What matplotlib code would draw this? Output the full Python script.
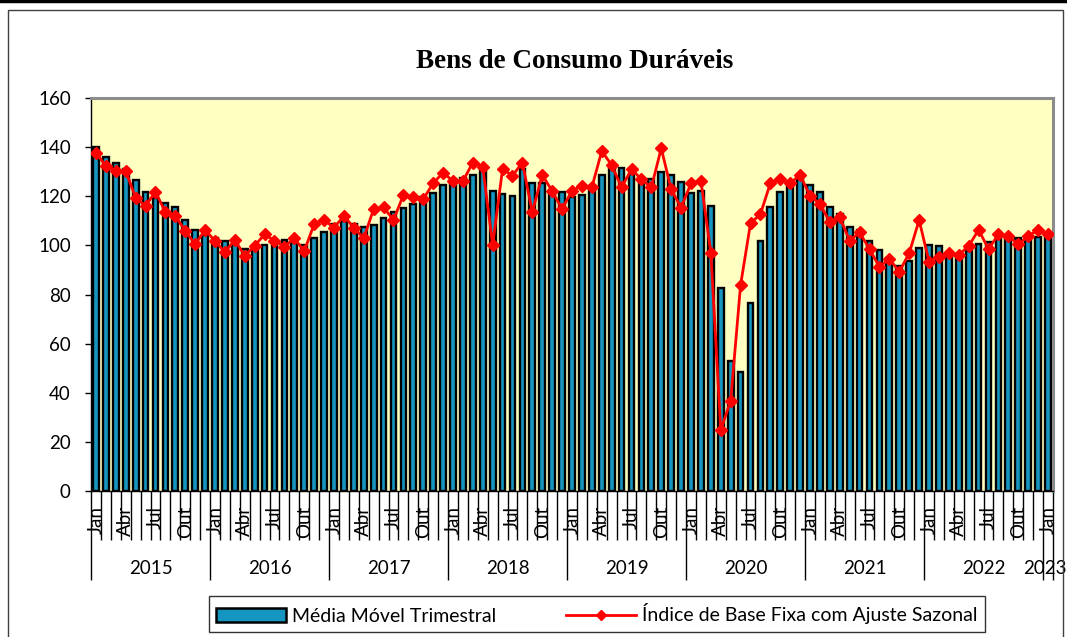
import numpy as np
import matplotlib
matplotlib.use("Agg")
from matplotlib import pyplot as plt
from matplotlib.patches import Rectangle
from matplotlib.lines import Line2D
from matplotlib.patches import Patch
import matplotlib.transforms as mtransforms

plt.rcParams['font.family'] = ['Lato', 'DejaVu Sans']

# monthly data, Jan 2015 .. Jan 2023
years = ["2015", "2016", "2017", "2018", "2019", "2020", "2021", "2022", "2023"]
month_labels = ["Jan", "", "", "Abr", "", "", "Jul", "", "", "Out", "", ""]

indice = [
    137.7, 132.3, 130.3, 130.3, 119.4, 116.0, 121.9, 113.5, 112.0, 106.0, 100.4, 106.3,
    101.9, 97.2, 102.2, 95.8, 99.8, 104.5, 101.9, 99.5, 102.9, 97.7, 108.6, 110.3,
    107.2, 112.0, 107.2, 102.9, 114.8, 115.5, 110.3, 120.5, 119.6, 118.8, 125.3, 129.6,
    126.2, 126.2, 133.7, 132.0, 100.2, 131.1, 128.4, 133.7, 113.5, 128.7, 122.1, 114.8,
    122.3, 124.3, 123.6, 138.4, 132.7, 123.6, 131.0, 126.9, 123.6, 139.5, 122.8, 115.4,
    125.3, 126.3, 97.0, 24.8, 36.8, 83.9, 109.0, 112.7, 125.3, 126.9, 125.3, 128.7,
    120.2, 116.9, 109.4, 111.4, 101.9, 105.3, 98.4, 91.3, 94.5, 89.3, 96.8, 110.3,
    93.4, 95.4, 97.0, 96.1, 99.8, 106.3, 98.5, 104.5, 103.8, 100.4, 103.8, 106.3,
    104.5,
]

media_movel = [
    140.0, 136.1, 133.4, 131.0, 126.7, 121.9, 119.1, 117.1, 115.8, 110.5, 106.1, 104.2,
    102.9, 101.8, 100.4, 98.4, 99.3, 100.0, 102.1, 102.0, 101.4, 100.0, 103.1, 105.5,
    108.7, 109.8, 108.8, 107.4, 108.3, 111.1, 113.5, 115.4, 116.8, 119.6, 121.2, 124.6,
    127.0, 127.3, 128.7, 130.6, 122.0, 121.1, 119.9, 131.1, 125.2, 125.3, 121.4, 121.9,
    119.7, 120.5, 123.4, 128.8, 131.6, 131.6, 129.1, 127.2, 127.2, 130.0, 128.6, 125.9,
    121.2, 122.3, 116.2, 82.7, 52.9, 48.5, 76.6, 101.9, 115.7, 121.6, 125.8, 127.0,
    124.7, 121.9, 115.5, 112.6, 107.6, 106.2, 101.9, 98.3, 94.7, 91.7, 93.5, 98.8,
    100.2, 99.7, 95.3, 96.2, 97.6, 100.7, 101.5, 103.1, 102.3, 102.9, 102.7, 103.5,
    104.9,
]

n = len(indice)
x = np.arange(n)

fig = plt.figure(figsize=(10.67, 6.37), dpi=100)
W, H = 1067, 637

# frame around the chart
fig.patches.append(Rectangle((8 / W, -0.1), (1063 - 8) / W, 1.1 - 10 / H,
                             transform=fig.transFigure, fill=False,
                             edgecolor="#404040", linewidth=1.0))
fig.add_artist(Line2D([0, 1], [1 - 1 / H, 1 - 1 / H], transform=fig.transFigure,
                      color="black", linewidth=2.5))

ax = fig.add_axes([91 / W, 1 - 491 / H, (1053 - 91) / W, (491 - 98) / H])
ax.set_facecolor("#FFFFC1")

ax.bar(x, media_movel, width=0.58, color="#1596C0", edgecolor="black",
       linewidth=1.7, zorder=2, label="Média Móvel Trimestral")
ax.plot(x, indice, color="#FF0000", linewidth=2.0, marker="D", markersize=6.5,
        zorder=3, label="Índice de Base Fixa com Ajuste Sazonal")

ax.set_xlim(-0.5, n - 0.5)
ax.set_ylim(0, 160)
ax.set_yticks(np.arange(0, 161, 20))
ax.tick_params(axis="y", direction="out", length=4.5, width=1, pad=10,
               labelsize=13.5, colors="black")

for side in ["top", "right"]:
    ax.spines[side].set_color("#8C8C8C")
    ax.spines[side].set_linewidth(2.2)
for side in ["left", "bottom"]:
    ax.spines[side].set_color("black")
    ax.spines[side].set_linewidth(1.0)

# x ticks: month boundaries (minor) and year boundaries (major)
year_bounds = list(np.arange(-0.5, n - 0.5, 12)) + [n - 0.5]
month_bounds = [b for b in np.arange(-0.5, n, 1) if b not in year_bounds]
ax.set_xticks(year_bounds)
ax.set_xticks(month_bounds, minor=True)
ax.tick_params(axis="x", which="major", length=64, width=1, color="black",
               labelbottom=False, direction="out")
ax.tick_params(axis="x", which="minor", length=35, width=1, color="black",
               labelbottom=False, direction="out")

trans = mtransforms.blended_transform_factory(ax.transData, ax.transAxes)
for i in range(n):
    lab = month_labels[i % 12]
    if lab:
        ax.text(i, -15 / 393, lab, transform=trans, rotation=90,
                rotation_mode="anchor", ha="right", va="center",
                fontsize=13.5, color="black")

for k, yr in enumerate(years):
    start = k * 12
    end = min(start + 12, n)
    xc = (start + end - 1) / 2
    if end - start < 12:
        xc -= 0.35
    ax.text(xc, -77 / 393, yr, transform=trans,
            ha="center", va="center", fontsize=13.5, color="black")

fig.text(575 / W, 1 - 62 / H, "Bens de Consumo Duráveis",
         fontfamily="Liberation Serif", fontweight="bold", fontsize=19.5,
         ha="center", va="center")

handles = [Patch(facecolor="#1596C0", edgecolor="black", linewidth=1.8),
           Line2D([], [], color="#FF0000", linewidth=2.0, marker="D", markersize=5)]
labels = ["Média Móvel Trimestral", "Índice de Base Fixa com Ajuste Sazonal"]
leg = fig.legend(handles, labels, loc="center", ncol=2,
                 bbox_to_anchor=(597 / W, 1 - 614 / H), fontsize=14,
                 frameon=True, fancybox=False, edgecolor="black",
                 columnspacing=3.6, handlelength=3.6, handletextpad=0.3,
                 borderpad=0.4, borderaxespad=0)
leg.get_frame().set_linewidth(1.0)

fig.savefig("out.png", dpi=100)
